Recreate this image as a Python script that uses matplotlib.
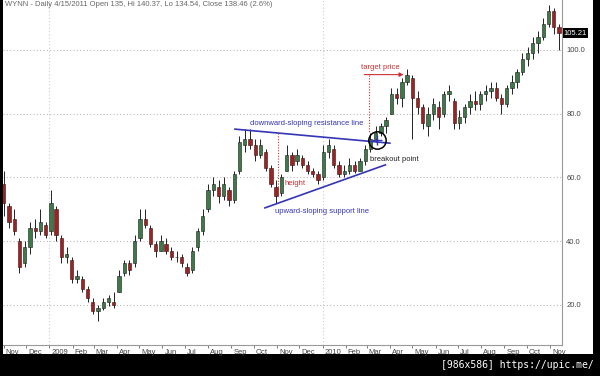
import matplotlib
matplotlib.use("Agg")
import matplotlib.pyplot as plt
from matplotlib.transforms import blended_transform_factory, ScaledTranslation
import numpy as np
import pandas as pd

# weekly candles, one per week starting 1 Nov 2008
week_open = [58, 51, 47, 40, 33, 38, 44, 43, 45, 43, 50, 41, 35, 34, 28, 28, 25, 21, 18, 19,
             21, 21, 24, 30, 33, 33, 41, 47, 44, 39, 37, 39, 37, 35, 35, 32, 31, 38, 43, 50,
             56, 57, 54, 56, 53, 62, 70, 72, 70, 67, 68, 63, 57, 55, 62, 67, 65, 66, 64, 62,
             61, 60, 68, 69, 64, 61, 62, 64, 62, 65, 69, 72, 74, 76, 80, 86, 85, 90, 91, 85,
             82, 76, 80, 82, 80, 86, 84, 77, 79, 82, 84, 83, 86, 87, 88, 85, 83, 88, 90, 93,
             97, 99, 102, 104, 108, 112, 107]
week_high = [62, 52, 50, 41, 40, 46, 47, 50, 46, 56, 51, 42, 38, 35, 31, 29, 26, 22, 20, 22,
             23, 24, 31, 34, 34, 42, 50, 50, 45, 40, 42, 41, 38, 37, 36, 33, 38, 44, 50, 58,
             60, 59, 60, 57, 62, 73, 75, 75, 72, 72, 69, 64, 59, 61, 70, 68, 69, 67, 65, 63,
             62, 70, 72, 70, 65, 64, 66, 65, 66, 70, 74, 76, 77, 79, 88, 88, 91, 94, 92, 87,
             83, 82, 85, 84, 87, 89, 85, 81, 83, 86, 87, 87, 89, 90, 90, 86, 89, 92, 94, 99,
             101, 104, 106, 110, 114, 113, 108]
week_low = [48, 44, 42, 30, 32, 36, 41, 42, 41, 42, 40, 33, 33, 27, 27, 24, 21, 17, 15, 18.5,
            19.5, 19, 24, 29, 29.5, 32, 40, 44, 38, 35, 37, 36, 34, 33.5, 32, 29, 30, 37, 42, 49,
            54, 52, 53, 51, 52, 61, 68, 69, 65, 66, 62, 57, 52, 54, 62, 62, 64, 63, 61, 60,
            58, 59, 66, 63, 60, 60, 61, 61.5, 62, 64, 68, 71, 73, 74, 80, 83, 82, 89, 72, 80,
            75, 73, 78, 75, 79, 84, 75, 75, 77, 80, 81, 81, 84, 85, 84, 80, 82, 86, 88, 92,
            95, 97, 99, 103, 107, 105, 100]
week_close = [52, 46, 43, 32, 38, 44, 43, 46, 42, 52, 42, 35, 36, 28, 29, 25, 22, 18, 19, 21,
              22, 20, 29, 33, 31, 40, 47, 45, 39, 37, 40, 37, 35, 35, 33, 30, 37, 43, 48, 56,
              58, 54, 58, 53, 61, 71, 72, 70, 67, 70, 63, 58, 54, 60, 67, 64, 67, 64, 62, 61,
              59, 68, 70, 64, 61, 62, 64, 62, 65, 69, 72, 74, 76, 78, 86, 85, 90, 92, 85, 82,
              77, 80, 83, 79, 86, 87, 77, 79, 82, 84, 83, 86, 87, 88, 85, 83, 88, 90, 93, 97,
              99, 102, 104, 108, 112, 107, 105.21]
week_dates = pd.date_range("2008-11-01", periods=len(week_close), freq="7D")

price_ticks = [20, 40, 60, 80, 100]
month_ticks = pd.date_range("2008-11-01", "2010-11-01", freq="MS")
month_labels = ["Nov", "Dec", "2009", "Feb", "Mar", "Apr", "May", "Jun", "Jul", "Aug", "Sep",
                "Oct", "Nov", "Dec", "2010", "Feb", "Mar", "Apr", "May", "Jun", "Jul", "Aug",
                "Sep", "Oct", "Nov"]
last_price = 105.21
title = "WYNN - Daily 4/15/2011 Open 135, Hi 140.37, Lo 134.54, Close 138.46 (2.6%)"

plt.rcParams['font.family'] = ['Liberation Sans', 'DejaVu Sans']

fig = plt.figure(figsize=(6, 3.76), dpi=100, facecolor='black')
# white chart panel on the black frame
bg = fig.add_axes([3 / 600, 22 / 376, 590 / 600, 354 / 376])
bg.set_facecolor('white')
bg.set_xticks([])
bg.set_yticks([])
for s in bg.spines.values():
    s.set_visible(False)
bg.set_zorder(0)

ax = fig.add_axes([3 / 600, 31 / 376, 559 / 600, 345 / 376])
ax.set_zorder(1)
ax.set_facecolor('white')

o = np.array(week_open, dtype=float)
h = np.array(week_high, dtype=float)
l = np.array(week_low, dtype=float)
c = np.array(week_close, dtype=float)
up = c >= o
ax.vlines(week_dates, l, h, color='#222222', lw=0.7, zorder=3)
ax.bar(week_dates[up], (c - o)[up], bottom=o[up], width=4.4,
       color='#3d7a48', edgecolor='#1a1a1a', lw=0.4, zorder=4)
ax.bar(week_dates[~up], (o - c)[~up], bottom=c[~up], width=4.4,
       color='#9b2323', edgecolor='#3a1010', lw=0.4, zorder=4)

ax.set_xlim(pd.Timestamp("2008-10-31"), pd.Timestamp("2010-11-17"))
ax.set_ylim(7.4, 115.6)

# grid
for p in price_ticks:
    ax.axhline(p, color='#bbbbbb', lw=0.8, ls=(0, (1, 2)), zorder=1)
for d in ["2009-01-01", "2010-01-01"]:
    ax.axvline(pd.Timestamp(d), color='#cccccc', lw=0.8, ls=(0, (1, 2)), zorder=1)

# axes styling
for s in ['left', 'top']:
    ax.spines[s].set_visible(False)
for s in ['right', 'bottom']:
    ax.spines[s].set_color('#999999')
    ax.spines[s].set_linewidth(0.8)
ax.yaxis.tick_right()
ax.set_yticks(price_ticks)
ax.set_yticklabels([f"{p:.1f}" for p in price_ticks])
ax.tick_params(axis='y', length=0, pad=3, labelsize=5.5, labelcolor='#444444')
ax.set_xticks(month_ticks)
ax.set_xticklabels(month_labels)
ax.tick_params(axis='x', direction='out', length=2.5, width=0.6, color='#666666',
               pad=0.5, labelsize=5.5, labelcolor='#444444')
shift = ScaledTranslation(1.5 / 72, 0, fig.dpi_scale_trans)
for lab in ax.get_xticklabels():
    lab.set_horizontalalignment('left')
    lab.set_transform(lab.get_transform() + shift)

# last price box
bt = blended_transform_factory(ax.transAxes, ax.transData)
ax.text(1.003, last_price, f"{last_price:.2f}", transform=bt, fontsize=5.5, color='white',
        va='center', ha='left', clip_on=False,
        bbox=dict(boxstyle='square,pad=0.15', facecolor='black', edgecolor='none'))

# annotations
T = pd.Timestamp
blue = '#3535b5'
red = '#cc3030'
ax.plot([T("2009-09-06"), T("2010-04-01")], [75.1, 70.7], color=blue, lw=1.2, zorder=5)
ax.plot([T("2009-10-16"), T("2010-03-26")], [50.4, 63.9], color=blue, lw=1.2, zorder=5)
ax.text(T("2009-09-26"), 76.8, "downward-sloping resistance line", color=blue,
        fontsize=5.5, va='center', ha='left', zorder=6)
ax.text(T("2009-10-30"), 49.2, "upward-sloping support line", color=blue,
        fontsize=5.5, va='center', ha='left', zorder=6)
ax.plot([T("2009-11-03"), T("2009-11-03")], [74.0, 55.5], color=red, lw=0.8,
        ls=(0, (1, 1.5)), zorder=5)
ax.text(T("2009-11-11"), 58.2, "height", color=red, fontsize=5.5, va='center',
        ha='left', zorder=6)
ax.plot([T("2010-03-04"), T("2010-03-04")], [92.2, 74.0], color=red, lw=0.8,
        ls=(0, (1, 1.5)), zorder=5)
ax.annotate("", xy=(T("2010-04-23"), 92.2), xytext=(T("2010-02-22"), 92.2),
            arrowprops=dict(arrowstyle='-|>', color=red, lw=0.8, mutation_scale=6),
            zorder=6)
ax.text(T("2010-02-22"), 94.4, "target price", color=red, fontsize=5.5, va='center',
        ha='left', zorder=6)
ax.plot([T("2010-03-15")], [71.7], marker='o', ms=12.5, mfc='none', mec='black',
        mew=1.1, zorder=7)
ax.plot([T("2010-03-15")], [71.7], marker='+', ms=7, color=blue, mew=1.0, zorder=7)
ax.text(T("2010-03-05"), 65.6, "breakout point", color='#222222', fontsize=5.5,
        va='center', ha='left', zorder=6)

# header and watermark
fig.text(5 / 600, 1 - 5 / 376, title, fontsize=5.5, color='#666666', va='center', ha='left')
fig.text(594 / 600, 11 / 376, "[986x586] https://upic.me/", fontsize=7, color='white',
         family='DejaVu Sans Mono', va='center', ha='right')

fig.savefig("out.png", dpi=100, facecolor='black')
